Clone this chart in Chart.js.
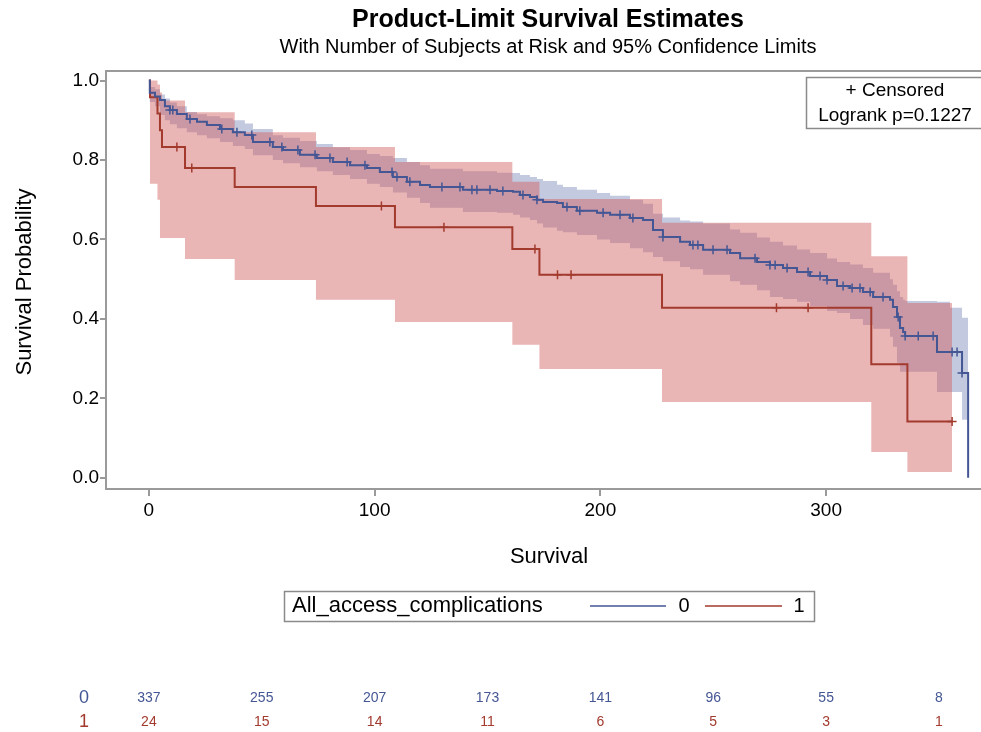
<!DOCTYPE html>
<html lang="en">
<head>
<meta charset="UTF-8">
<title>Product-Limit Survival Estimates</title>
<script src="https://cdn.jsdelivr.net/npm/chart.js"></script>
<style>
  body { margin: 0; background: #fff; }
  canvas { display: block; }
</style>
</head>
<body>
<canvas id="kmChart" width="981" height="732"></canvas>
<script>
// group 0 : step points of the KM curve and its 95% band
const blueTime = [0, 0.4, 2.7, 4.9, 7.1, 9.3, 12.4, 16.8, 21.3, 25.7,
  31.5, 37.2, 42.5, 46.1, 54.9, 59.4, 66.9, 74.4, 81.5, 89.1,
  96.6, 102.3, 108.1, 114.3, 120.1, 124.5, 139.1, 154.2, 161.3, 164.4,
  168.8, 171.9, 174.6, 180.8, 183.4, 189.6, 198.5, 204.3, 213.1, 218.9,
  223.3, 227.7, 235.3, 239.7, 245.5, 257.4, 261.9, 269.4, 275.1, 280.9,
  287.1, 292.9, 300.4, 304.8, 310.6, 316.3, 320.8, 328.3, 329.6, 331.4,
  332.7, 334.1, 335.0, 349.1, 354.9, 360.2, 362.9];
const blueSurv = [1.0, 0.969, 0.960, 0.951, 0.935, 0.926, 0.916, 0.903, 0.896, 0.888,
  0.878, 0.870, 0.863, 0.845, 0.833, 0.825, 0.813, 0.805, 0.795, 0.787,
  0.780, 0.770, 0.757, 0.745, 0.737, 0.732, 0.725, 0.722, 0.720, 0.712,
  0.707, 0.700, 0.694, 0.692, 0.682, 0.672, 0.667, 0.662, 0.654, 0.649,
  0.624, 0.606, 0.594, 0.586, 0.574, 0.566, 0.553, 0.543, 0.536, 0.528,
  0.518, 0.508, 0.498, 0.483, 0.478, 0.468, 0.455, 0.448, 0.430, 0.405,
  0.377, 0.367, 0.357, 0.317, 0.317, 0.264, 0.0];
const blueLower = [1.0, 0.946, 0.935, 0.913, 0.900, 0.890, 0.880, 0.870, 0.862, 0.855,
  0.845, 0.835, 0.828, 0.812, 0.800, 0.792, 0.782, 0.772, 0.762, 0.752,
  0.740, 0.732, 0.718, 0.705, 0.692, 0.680, 0.669, 0.667, 0.662, 0.655,
  0.649, 0.640, 0.630, 0.622, 0.618, 0.611, 0.600, 0.591, 0.578, 0.568,
  0.556, 0.545, 0.531, 0.525, 0.511, 0.495, 0.486, 0.472, 0.455, 0.450,
  0.443, 0.432, 0.420, 0.415, 0.400, 0.385, 0.375, 0.355, 0.330, 0.290,
  0.267, 0.267, 0.267, 0.216, 0.216, 0.146, 0.146];
const blueUpper = [1.0, 0.984, 0.978, 0.965, 0.955, 0.945, 0.935, 0.921, 0.915, 0.910,
  0.905, 0.900, 0.892, 0.878, 0.862, 0.856, 0.848, 0.840, 0.832, 0.825,
  0.815, 0.810, 0.805, 0.795, 0.787, 0.778, 0.772, 0.768, 0.767, 0.762,
  0.757, 0.752, 0.747, 0.738, 0.732, 0.725, 0.717, 0.710, 0.700, 0.690,
  0.665, 0.655, 0.648, 0.645, 0.640, 0.625, 0.617, 0.605, 0.594, 0.585,
  0.575, 0.566, 0.552, 0.543, 0.537, 0.528, 0.516, 0.500, 0.486, 0.470,
  0.455, 0.448, 0.445, 0.443, 0.428, 0.403, 0.403];
const blueCensor = [9.3, 10.6, 18.2, 32.3, 39.0, 45.6, 53.6, 58.9, 66.0, 73.6,
  80.2, 87.8, 95.7, 107.7, 109.9, 115.6, 129.8, 137.8, 143.1, 145.3,
  151.1, 156.8, 165.7, 171.9, 185.2, 190.9, 201.2, 208.7, 214.4, 227.7,
  241.0, 243.2, 249.9, 256.1, 268.5, 275.1, 277.4, 282.7, 292.0, 297.3,
  300.4, 307.5, 311.5, 315.0, 319.5, 325.2, 331.9, 335.0, 340.8, 347.4,
  355.8, 358.0, 360.2];

// group 1
const redTime = [0, 0.5, 3.8, 4.9, 5.8, 16.0, 38.0, 74.0, 109.0, 161.0, 173.0, 227.3, 320.0, 336.0, 355.8];
const redSurv = [1.0, 0.958, 0.917, 0.875, 0.833, 0.780, 0.732, 0.684, 0.631, 0.576, 0.511, 0.428, 0.286, 0.142, 0.142];
const redLower = [1.0, 0.740, 0.700, 0.604, 0.604, 0.551, 0.498, 0.448, 0.392, 0.335, 0.274, 0.191, 0.065, 0.015, 0.015];
const redUpper = [1.0, 1.0, 0.990, 0.970, 0.950, 0.920, 0.870, 0.833, 0.795, 0.745, 0.702, 0.642, 0.558, 0.440, 0.440];
const redCensor = [12.4, 19.0, 103.0, 130.7, 171.0, 181.0, 187.0, 278.0, 292.0, 355.8];

// number at risk
const atRiskTimes = [0, 50, 100, 150, 200, 250, 300, 350];
const atRisk0 = [337, 255, 207, 173, 141, 96, 55, 8];
const atRisk1 = [24, 15, 14, 11, 6, 5, 3, 1];

const groupNames = ['0', '1'];
const groupVar = 'All_access_complications';
const pValue = 'Logrank p=0.1227';

const FONT = "'Liberation Sans', Arial, sans-serif";
const blueLine = '#445694';
const redLine = '#a23a2e';
const axisGrey = '#9a9a9a';

function pts(times, vals) {
  return times.map((t, i) => ({ x: t, y: vals[i] }));
}
function survAt(times, vals, t) {
  let v = vals[0];
  for (let i = 0; i < times.length; i++) {
    if (times[i] <= t) v = vals[i];
  }
  return v;
}
function censorPts(cens, times, vals) {
  return cens.map(t => ({ x: t, y: survAt(times, vals, t) }));
}

const decor = {
  id: 'decor',
  afterDraw(chart) {
    const ctx = chart.ctx;
    const a = chart.chartArea;
    const x = chart.scales.x;
    ctx.save();

    // frame top (the right side runs off the picture)
    ctx.strokeStyle = axisGrey;
    ctx.lineWidth = 2;
    ctx.beginPath();
    ctx.moveTo(a.left, a.top);
    ctx.lineTo(chart.width, a.top);
    ctx.stroke();

    // titles
    ctx.fillStyle = '#000';
    ctx.textAlign = 'center';
    ctx.textBaseline = 'middle';
    ctx.font = 'bold 25px ' + FONT;
    ctx.fillText('Product-Limit Survival Estimates', 548, 20);
    ctx.font = '20px ' + FONT;
    ctx.fillText('With Number of Subjects at Risk and 95% Confidence Limits', 548, 47);

    // axis titles
    ctx.font = '22px ' + FONT;
    ctx.fillText('Survival', 549, 557);
    ctx.save();
    ctx.translate(25, 282);
    ctx.rotate(-Math.PI / 2);
    ctx.fillText('Survival Probability', 0, 0);
    ctx.restore();

    // inset box
    ctx.strokeStyle = '#8a8a8a';
    ctx.lineWidth = 1.5;
    ctx.strokeRect(806.5, 77.5, 178, 51);
    ctx.font = '19px ' + FONT;
    ctx.fillText('+ Censored', 895, 91);
    ctx.fillText(pValue, 895, 116);

    // group legend
    ctx.strokeRect(284.5, 591.5, 530, 30);
    ctx.textAlign = 'left';
    ctx.font = '22px ' + FONT;
    ctx.fillText(groupVar, 292, 606);
    ctx.lineWidth = 1.5;
    ctx.strokeStyle = blueLine;
    ctx.beginPath(); ctx.moveTo(590, 606); ctx.lineTo(666, 606); ctx.stroke();
    ctx.strokeStyle = redLine;
    ctx.beginPath(); ctx.moveTo(705, 606); ctx.lineTo(782, 606); ctx.stroke();
    ctx.textAlign = 'center';
    ctx.font = '20px ' + FONT;
    ctx.fillText(groupNames[0], 684, 606);
    ctx.fillText(groupNames[1], 799, 606);

    // number at risk rows
    const rows = [[atRisk0, blueLine, 698], [atRisk1, redLine, 722]];
    rows.forEach(([vals, col, y], g) => {
      ctx.fillStyle = col;
      ctx.font = '18px ' + FONT;
      ctx.fillText(groupNames[g], 84, y);
      ctx.font = '14px ' + FONT;
      atRiskTimes.forEach((t, i) => {
        ctx.fillText(String(vals[i]), x.getPixelForValue(t), y);
      });
    });
    ctx.restore();
  }
};

const line = (data, color) => ({
  data, stepped: 'before', borderColor: color, borderWidth: 2,
  pointRadius: 0, fill: false
});
const band = (data, color, fill) => ({
  data, stepped: 'before', borderWidth: 0, pointRadius: 0,
  backgroundColor: color, fill: fill
});
const marks = (data, color) => ({
  data, showLine: false, pointStyle: 'cross', pointRadius: 4.5,
  pointBorderColor: color, pointBorderWidth: 1.5, borderColor: color
});

new Chart(document.getElementById('kmChart'), {
  type: 'line',
  data: {
    datasets: [
      line(pts(blueTime, blueSurv), blueLine),
      line(pts(redTime, redSurv), redLine),
      marks(censorPts(blueCensor, blueTime, blueSurv), blueLine),
      marks(censorPts(redCensor, redTime, redSurv), redLine),
      band(pts(redTime, redUpper), 'rgba(208, 91, 91, 0.45)', '+1'),
      band(pts(redTime, redLower), 'transparent', false),
      band(pts(blueTime, blueUpper), 'rgba(111, 126, 179, 0.42)', '+1'),
      band(pts(blueTime, blueLower), 'transparent', false)
    ]
  },
  options: {
    responsive: false,
    animation: false,
    events: [],
    layout: { autoPadding: false, padding: { top: 71, right: 0, left: 0, bottom: 0 } },
    plugins: {
      legend: { display: false },
      tooltip: { enabled: false },
      filler: { drawTime: 'beforeDatasetsDraw' }
    },
    scales: {
      x: {
        type: 'linear',
        min: -19, max: 368.6,
        afterFit(s) { s.height = 243; },
        border: { color: axisGrey, width: 2 },
        grid: { drawOnChartArea: false, color: axisGrey, lineWidth: 2, tickLength: 7 },
        ticks: {
          stepSize: 100, includeBounds: false, padding: 3,
          color: '#000', font: { family: FONT, size: 19 }
        }
      },
      y: {
        min: -0.028, max: 1.024,
        afterFit(s) { s.width = 106; },
        border: { color: axisGrey, width: 2 },
        grid: { drawOnChartArea: false, color: axisGrey, lineWidth: 2, tickLength: 6 },
        ticks: {
          stepSize: 0.2, includeBounds: false, padding: 1,
          color: '#000', font: { family: FONT, size: 19 },
          callback: v => v.toFixed(1)
        }
      }
    }
  },
  plugins: [decor]
});
</script>
</body>
</html>
